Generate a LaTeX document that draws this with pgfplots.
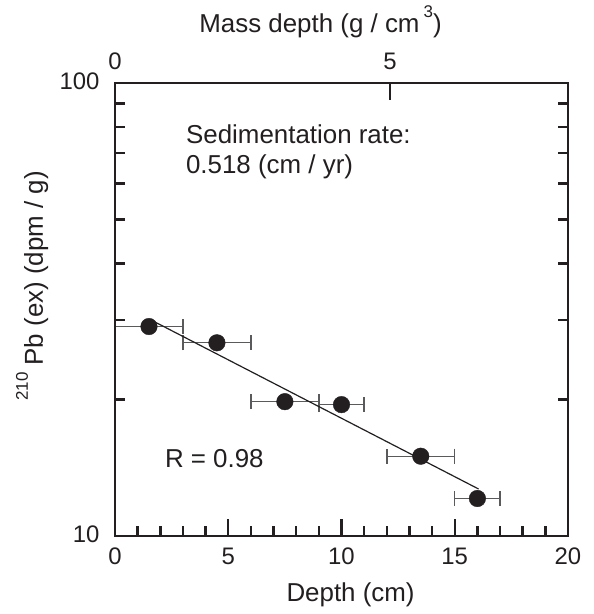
\documentclass[border=0pt]{standalone}
\usepackage{pgfplots}
\pgfplotsset{compat=1.18}
\usepackage{fontspec}
\setmainfont{Liberation Sans}
\definecolor{ink}{HTML}{231F20}
\definecolor{errc}{HTML}{5A5A5C}
\pgfplotstableread{
x y ex
1.5 29.0 1.5
4.5 26.7 1.5
7.5 19.8 1.5
10 19.5 1
13.5 15.0 1.5
16 12.1 1
}\pbdata
\begin{document}
\begin{tikzpicture}
\begin{axis}[
  scale only axis, width=453bp, height=453bp,
  xmin=0, xmax=20, ymin=10, ymax=100, ymode=log,
  axis line style={line width=2.7bp, color=ink},
  xtick={0,5,10,15,20}, xticklabels={0,5,10,15,20}, minor x tick num=4,
  ytick={10,100}, yticklabels={10,100}, minor ytick={20,30,40,50,60,70,80,90},
  xtick pos=left, ytick pos=both,
  tick align=inside,
  major tick length=17bp, minor tick length=10bp,
  every tick/.style={line width=2.5bp, color=ink},
  /pgf/number format/assume math mode=true,
  ticklabel style={font=\fontsize{24}{28}\selectfont, color=ink},
  xticklabel style={anchor=base, yshift=-29bp},
  yticklabel style={anchor=base east, xshift=-12bp, yshift=-7bp},
  xlabel={Depth (cm)},
  xlabel style={font=\fontsize{26}{30}\selectfont, color=ink, at={(axis description cs:0.52,0)}, anchor=base, yshift=-66bp},
  ylabel={{\fontsize{17}{20}\selectfont\raisebox{15bp}{210}}\hspace{7bp}Pb (ex) (dpm / g)},
  ylabel style={font=\fontsize{26}{30}\selectfont, color=ink, at={(axis description cs:-0.159,0.552)}, anchor=base},
  clip=false,
]
\addplot[draw=none, mark=none, forget plot,
  error bars/.cd, x dir=both, x explicit, error mark=|,
  error bar style={line width=1.4bp, draw=errc},
  error mark options={mark size=7.5bp, line width=1.4bp, draw=errc, rotate=0}]
  table[x=x, y=y, x error=ex] {\pbdata};
\addplot[ink, line width=1.2bp] coordinates {(1.75,29.7) (16.05,12.7)};
\addplot[only marks, mark=*, mark size=8.3bp, mark options={fill=ink, draw=ink}] table[x=x, y=y] {\pbdata};
\node[anchor=base west, font=\fontsize{26}{30}\selectfont, text=ink, inner sep=0pt] at (axis cs:3.13,73.7) {Sedimentation rate:};
\node[anchor=base west, font=\fontsize{26}{30}\selectfont, text=ink, inner sep=0pt] at (axis cs:3.13,63.0) {0.518 (cm / yr)};
\node[anchor=base west, font=\fontsize{26}{30}\selectfont, text=ink, inner sep=0pt] at (axis cs:2.2,14.2) {R = 0.98};
\end{axis}
\begin{axis}[
  scale only axis, width=453bp, height=453bp,
  xmin=0, xmax=8.237, ymin=0, ymax=1,
  axis line style={line width=2.7bp, color=ink},
  xtick={0,5}, xticklabels={0,5}, ytick=\empty,
  xtick pos=right, xticklabel pos=right,
  tick align=inside,
  major tick length=17bp,
  every tick/.style={line width=2.5bp, color=ink},
  ticklabel style={font=\fontsize{24}{28}\selectfont, color=ink},
  xticklabel style={anchor=base, yshift=13bp},
  xlabel={Mass depth (g / cm\hspace{4bp}{\fontsize{17}{20}\selectfont\raisebox{15bp}{3}})},
  xlabel style={font=\fontsize{26}{30}\selectfont, color=ink, at={(axis description cs:0.4536,1)}, anchor=base, yshift=50bp},
]
\end{axis}
\pgfresetboundingbox
\path (current axis.south west) ++(-115bp,-78bp) rectangle ++(594bp,614bp);
\end{tikzpicture}
\end{document}
